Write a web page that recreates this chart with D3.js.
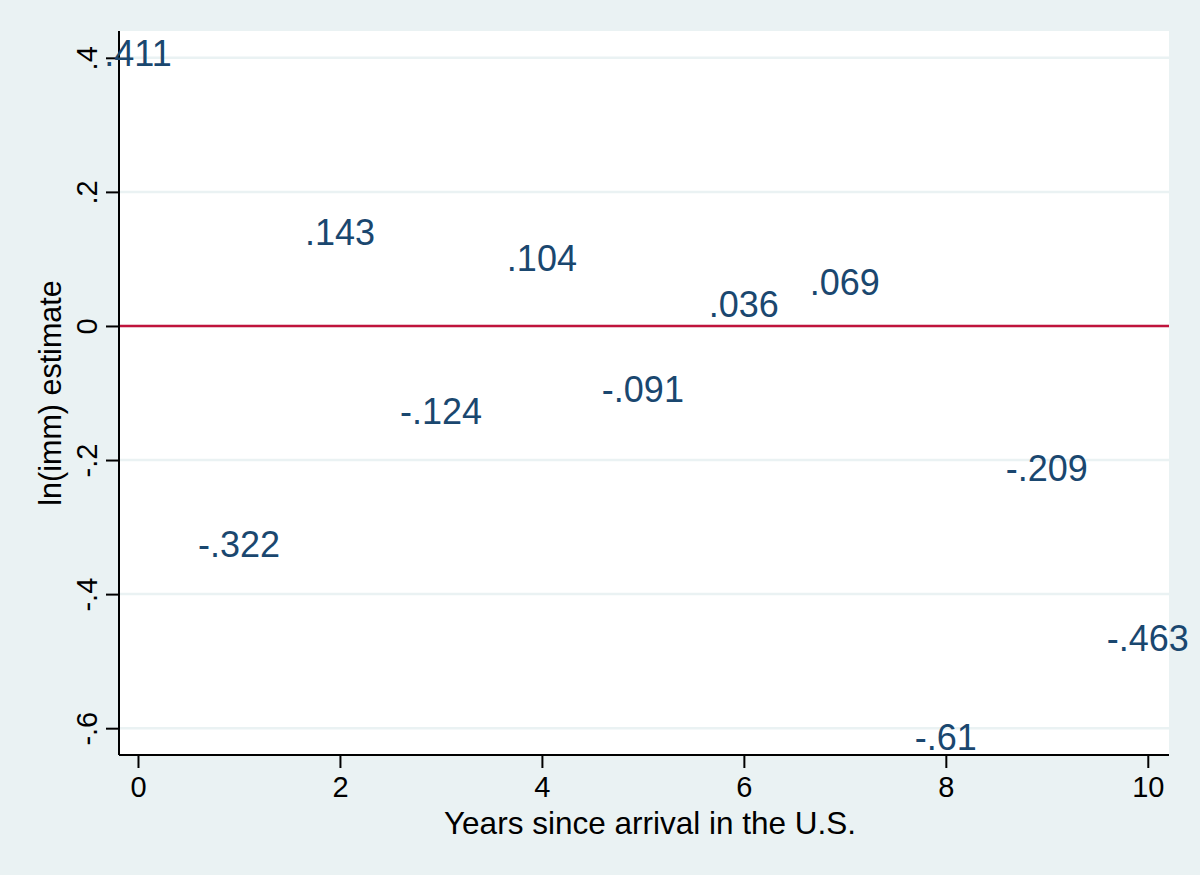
<!DOCTYPE html>
<html lang="en">
<head>
<meta charset="utf-8">
<title>ln(imm) estimate by years since arrival</title>
<script src="https://cdn.jsdelivr.net/npm/d3@7"></script>
<style>
  body { margin: 0; background: #eaf2f3; }
  svg { display: block; font-family: "Liberation Sans", Arial, sans-serif; }
</style>
</head>
<body>
<script>
/* data */
var years = [0, 1, 2, 3, 4, 5, 6, 7, 8, 9, 10];
var estimates = [0.411, -0.322, 0.143, -0.124, 0.104, -0.091, 0.036, 0.069, -0.61, -0.209, -0.463];
var labels = [".411", "-.322", ".143", "-.124", ".104", "-.091", ".036", ".069", "-.61", "-.209", "-.463"];
var xTicks = [0, 2, 4, 6, 8, 10];
var yTicks = [-0.6, -0.4, -0.2, 0, 0.2, 0.4];
var yTickLabels = ["-.6", "-.4", "-.2", "0", ".2", ".4"];

var W = 1200, H = 875;
var margin = {top: 31, right: 31, bottom: 120, left: 119};
var width = W - margin.left - margin.right;
var height = H - margin.top - margin.bottom;

var x = d3.scaleLinear().domain([-0.188, 10.21]).range([0, width]);
var y = d3.scaleLinear().domain([-0.64, 0.44]).range([height, 0]);

var svg = d3.select("body").append("svg")
  .attr("width", W).attr("height", H);

svg.append("rect").attr("width", W).attr("height", H).attr("fill", "#eaf2f3");

var g = svg.append("g")
  .attr("transform", "translate(" + margin.left + "," + margin.top + ")");

/* plot region */
g.append("rect").attr("width", width).attr("height", height).attr("fill", "#ffffff");

/* gridlines */
g.selectAll(".grid").data(yTicks).enter().append("line")
  .attr("x1", 0).attr("x2", width)
  .attr("y1", function(d) { return y(d); })
  .attr("y2", function(d) { return y(d); })
  .attr("stroke", "#eaf2f3").attr("stroke-width", 2.5);

/* reference line at zero */
g.append("line")
  .attr("x1", 0).attr("x2", width)
  .attr("y1", y(0)).attr("y2", y(0))
  .attr("stroke", "#c0143c").attr("stroke-width", 2.5);

/* axes */
var xAxis = d3.axisBottom(x).tickValues(xTicks).tickSize(13).tickPadding(8)
  .tickFormat(d3.format("d"));
var gx = g.append("g").attr("transform", "translate(0," + height + ")").call(xAxis);
gx.select(".domain").attr("d", "M0,0H" + width).attr("stroke", "#000").attr("stroke-width", 2);
gx.selectAll(".tick line").attr("stroke", "#000").attr("stroke-width", 2);
gx.selectAll(".tick text").attr("font-size", 29).attr("fill", "#000")
  .attr("font-family", "Liberation Sans, Arial, sans-serif");

var yAxis = d3.axisLeft(y).tickValues(yTicks).tickSize(13).tickPadding(0)
  .tickFormat(function(d, i) { return yTickLabels[i]; });
var gy = g.append("g").call(yAxis);
gy.select(".domain").attr("d", "M0,0V" + height).attr("stroke", "#000").attr("stroke-width", 2);
gy.selectAll(".tick line").attr("stroke", "#000").attr("stroke-width", 2);
gy.selectAll(".tick text")
  .attr("x", null).attr("dy", null)
  .attr("transform", "translate(-22,0) rotate(-90)")
  .attr("text-anchor", "middle")
  .attr("font-size", 29).attr("fill", "#000")
  .attr("font-family", "Liberation Sans, Arial, sans-serif");

/* marker labels, centred on each point */
g.selectAll(".mlab").data(estimates).enter().append("text")
  .attr("class", "mlab")
  .attr("x", function(d, i) { return x(years[i]); })
  .attr("y", function(d) { return y(d); })
  .attr("dy", "0.42em")
  .attr("text-anchor", "middle")
  .attr("font-size", 36)
  .attr("fill", "#1a476f")
  .text(function(d, i) { return labels[i]; });

/* axis titles */
svg.append("text")
  .attr("x", 650)
  .attr("y", 834)
  .attr("text-anchor", "middle")
  .attr("font-size", 31.5)
  .attr("fill", "#000")
  .text("Years since arrival in the U.S.");

svg.append("text")
  .attr("transform", "translate(61," + (margin.top + height / 2) + ") rotate(-90)")
  .attr("text-anchor", "middle")
  .attr("font-size", 30.5)
  .attr("fill", "#000")
  .text("ln(imm) estimate");
</script>
</body>
</html>
